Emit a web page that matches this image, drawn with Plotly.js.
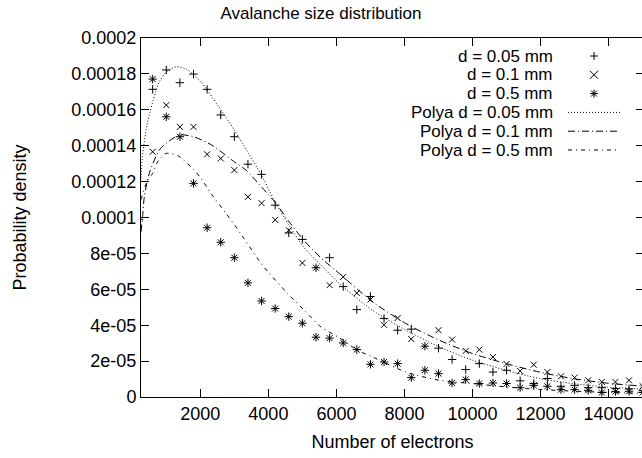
<!DOCTYPE html>
<html><head><meta charset="utf-8">
<script src="https://cdn.plot.ly/plotly-3.0.1.min.js"></script>
<style>html,body{margin:0;padding:0;background:#fff;overflow:hidden;width:642px;height:458px;} #chart{width:644px;height:458px;}</style>
</head><body><div id="chart"></div>
<script>
// ---- data (probability density in units of 1e-5) ----
const binCenters = [200,600,1000,1400,1800,2200,2600,3000,3400,3800,4200,4600,5000,5400,5800,6200,6600,7000,7400,7800,8200,8600,9000,9400,9800,10200,10600,11000,11400,11800,12200,12600,13000,13400,13800,14200,14600,15000];
const densD005 = [9.9,17.14,18.22,17.51,17.99,17.14,15.71,14.50,12.97,12.40,10.69,9.14,8.78,7.2,7.76,6.15,4.87,5.6,4.37,3.72,3.78,2.83,2.72,2.09,1.53,1.86,1.39,1.49,0.9,0.75,1.03,0.60,0.65,0.52,0.52,0.47,0.45,0.35];
const densD01  = [null,13.66,16.26,15.05,15.05,13.52,13.29,12.64,11.15,10.80,9.87,9.29,7.47,7.2,6.23,6.69,5.79,5.43,4.02,4.40,3.23,2.83,3.72,3.20,2.57,2.64,2.23,1.84,1.45,1.80,1.39,1.15,1.08,0.93,0.84,0.84,0.93,0.6];
const densD05  = [null,17.71,15.61,14.50,11.90,9.43,8.62,7.76,6.36,5.35,4.93,4.48,4.11,3.33,3.28,3.01,2.64,1.82,1.95,1.86,1.08,1.49,1.30,0.78,0.97,0.75,0.78,0.75,0.52,0.65,0.60,0.41,0.41,0.37,0.25,0.30,0.32,0.25];

const polyaX005 = [257,304,451,795,1000,1300,1600,2020,2510,3000,3390,3784,4175,4615,5056,5547,6085,7064,8045,9025,10000,10985,11963,12942,13923,15040];
const polyaY005 = [12.2,13.48,15.33,17.56,18.1,18.4,18.25,17.56,16.26,14.87,13.66,12.4,10.96,9.55,8.3,7.35,6.32,4.83,3.72,2.79,2.05,1.49,1.03,0.75,0.56,0.44];
const polyaX01 = [257,304,354,500,795,1040,1400,1800,2340,3000,3343,3800,4225,4616,5056,5547,6085,7064,8045,9025,10000,10985,11963,12942,13923,15040];
const polyaY01 = [9.2,10.04,11.15,12.46,13.76,14.2,14.6,14.5,14.03,13.1,12.64,11.7,10.78,9.75,8.7,7.75,6.88,5.30,4.09,3.16,2.42,1.86,1.39,1.03,0.78,0.6];
const polyaX05 = [257,451,600,745,1000,1333,1774,2020,2314,2755,3000,3293,3784,4000,4566,5056,5547,6085,6623,7064,8045,9025,10000,10985,11963,12942,13923,15040];
const polyaY05 = [11.0,12.08,12.46,13.1,13.57,13.45,12.73,12.18,11.34,10.23,9.6,8.8,7.45,6.95,5.77,4.83,3.9,3.3,2.60,2.23,1.39,0.93,0.75,0.56,0.42,0.33,0.26,0.2];

const seriesNames = ['d = 0.05 mm','d = 0.1 mm','d = 0.5 mm','Polya d = 0.05 mm','Polya d = 0.1 mm','Polya d = 0.5 mm'];
const xTickVals = [2000,4000,6000,8000,10000,12000,14000];
const xTickText = ['2000','4000','6000','8000','10000','12000','14000'];
const yTickVals = [0,2,4,6,8,10,12,14,16,18,20];
const yTickText = ['0','2e-05','4e-05','6e-05','8e-05','0.0001','0.00012','0.00014','0.00016','0.00018','0.0002'];
const UNIT = 1e-5;

// ---- styling ----
const FONT = 'Liberation Sans, Arial, Helvetica, sans-serif';
const FS = 18;
const KEY_FS = 17;
const W = 644, H = 458;   // plot area runs 2px past the 642px window, like the cropped original
const M = {l:141, r:0, t:38, b:61};
const scaleY = a => a.map(v => v === null ? null : v * UNIT);

const markerStyles = [
  {symbol:'cross-thin-open', size:6},
  {symbol:'x-thin-open', size:6},
  {symbol:'asterisk-open', size:7}
];
const lineDashes = ['1px,2px', '7px,3px,1px,3px', '4px,4px,1px,4px'];

const traces = [];
[densD005, densD01, densD05].forEach((d, i) => {
  traces.push({
    type:'scatter', mode:'markers', name:seriesNames[i],
    x:binCenters, y:scaleY(d),
    marker:{symbol:markerStyles[i].symbol, size:markerStyles[i].size, color:'#000', line:{color:'#000', width:1}}
  });
});
[[polyaX005, polyaY005],[polyaX01, polyaY01],[polyaX05, polyaY05]].forEach((p, i) => {
  traces.push({
    type:'scatter', mode:'lines', name:seriesNames[3+i],
    x:p[0], y:scaleY(p[1]),
    line:{color:'#000', width:1, dash:lineDashes[i], shape:'spline', smoothing:0.7}
  });
});

// ---- gnuplot-style key (text right aligned, sample to the right) ----
const plotW = W - M.l - M.r, plotH = H - M.t - M.b;
const px2paperX = px => (px - M.l) / plotW;
const px2paperY = py => (H - M.b - py) / plotH;
const keyTextRight = 555, keySampleCenter = 594, keyLineX0 = 568, keyLineX1 = 620;
const keyTop = 56, keyRowStep = 18.8;
const annotations = [];
const shapes = [];
const rowY = i => keyTop + i * keyRowStep;
seriesNames.forEach((name, i) => {
  annotations.push({
    text:name, xref:'paper', yref:'paper', x:px2paperX(keyTextRight), y:px2paperY(rowY(i)),
    xanchor:'right', yanchor:'middle', showarrow:false, font:{family:FONT, size:KEY_FS, color:'#000'}
  });
});
function markLine(cx, cy, dx0, dy0, dx1, dy1){
  shapes.push({type:'line', xref:'paper', yref:'paper', xsizemode:'pixel', ysizemode:'pixel',
    xanchor:px2paperX(cx), yanchor:px2paperY(cy), x0:dx0, y0:dy0, x1:dx1, y1:dy1,
    line:{color:'#000', width:1}});
}
// plus
markLine(keySampleCenter, rowY(0), -4, 0, 4, 0);
markLine(keySampleCenter, rowY(0), 0, -4, 0, 4);
// cross
markLine(keySampleCenter, rowY(1), -4, -4, 4, 4);
markLine(keySampleCenter, rowY(1), -4, 4, 4, -4);
// asterisk
markLine(keySampleCenter, rowY(2), -4, 0, 4, 0);
markLine(keySampleCenter, rowY(2), 0, -4, 0, 4);
markLine(keySampleCenter, rowY(2), -3, -3, 3, 3);
markLine(keySampleCenter, rowY(2), -3, 3, 3, -3);
for (let i = 0; i < 3; i++) {
  shapes.push({type:'line', xref:'paper', yref:'paper',
    x0:px2paperX(keyLineX0), x1:px2paperX(keyLineX1), y0:px2paperY(rowY(3+i)), y1:px2paperY(rowY(3+i)),
    line:{color:'#000', width:1, dash:lineDashes[i]}});
}

const axisCommon = {
  showline:true, mirror:'ticks', linecolor:'#000', linewidth:1,
  ticks:'inside', ticklen:8, tickwidth:1, tickcolor:'#000',
  showgrid:false, zeroline:false, tickfont:{family:FONT, size:FS, color:'#000'}
};

const layout = {
  width:W, height:H, margin:{l:M.l, r:M.r, t:M.t, b:M.b, pad:0},
  paper_bgcolor:'#fff', plot_bgcolor:'#fff', showlegend:false,
  font:{family:FONT, size:FS, color:'#000'},
  title:{text:'Avalanche size distribution', xref:'container', x:321/W, xanchor:'center',
         yref:'container', y:1 - 13/H, yanchor:'middle', font:{family:FONT, size:17, color:'#000'}},
  xaxis:Object.assign({}, axisCommon, {range:[257, 15040], tickvals:xTickVals, ticktext:xTickText,
         title:{text:'Number of electrons', font:{family:FONT, size:FS, color:'#000'}, standoff:12}}),
  yaxis:Object.assign({}, axisCommon, {range:[0, 20*UNIT], tickvals:scaleY(yTickVals), ticktext:yTickText,
         title:{text:'Probability density', font:{family:FONT, size:FS, color:'#000'}, standoff:40}}),
  annotations:annotations, shapes:shapes
};

Plotly.newPlot('chart', traces, layout, {staticPlot:true, displayModeBar:false});
</script>
</body></html>
